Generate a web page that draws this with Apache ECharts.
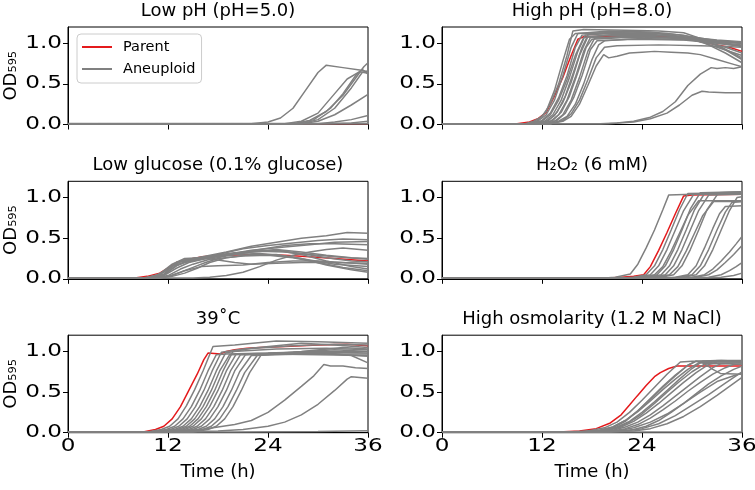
<!DOCTYPE html>
<html>
<head>
<meta charset="utf-8">
<script src="https://cdn.jsdelivr.net/npm/echarts@6/dist/echarts.min.js"></script>
<style>html,body{margin:0;padding:0;background:#fff}#c{width:755px;height:490px}</style>
</head>
<body>
<div id="c"></div>
<script>
// ---------- data ----------
const xTicks = [0, 12, 24, 36];
const yTicks = [0, 0.5, 1.0];
const panelTitles = ['Low pH (pH=5.0)', 'High pH (pH=8.0)', 'Low glucose (0.1% glucose)', 'H\u2082O\u2082 (6 mM)', '39\u02DAC', 'High osmolarity (1.2 M NaCl)'];
const legendNames = ['Parent', 'Aneuploid'];

const lowPH_parent = [[0,0.01],[36,0.01]];
const lowPH_aneuploid = [
  [[0,0.01],[22,0.01],[24,0.03],[25.5,0.08],[27,0.2],[28.5,0.42],[30,0.64],[31,0.73],[33,0.7],[35,0.67],[36,0.65]],
  [[0,0.01],[26,0.01],[28,0.04],[30,0.14],[32,0.38],[33.5,0.56],[35,0.65],[36,0.63]],
  [[0,0.01],[27,0.01],[29,0.05],[31,0.16],[33,0.36],[34.5,0.57],[35.5,0.71],[36,0.76]],
  [[0,0.01],[27.5,0.01],[29.5,0.06],[31.5,0.2],[33,0.38],[34.5,0.6],[35.3,0.68],[36,0.62]],
  [[0,0.01],[28,0.01],[30,0.06],[32,0.2],[34,0.45],[35.3,0.64],[36,0.66]],
  [[0,0.01],[28,0.01],[30,0.04],[32,0.12],[34,0.24],[36,0.37]],
  [[0,0.01],[30,0.01],[32,0.03],[34,0.06],[36,0.11]],
  [[0,0.01],[31,0.01],[34,0.02],[36,0.04]],
  [[0,0.01],[36,0.012]],
  [[0,0.012],[36,0.01]]
];

const highPH_parent = [[0,0.01],[9,0.01],[10.5,0.03],[11.5,0.07],[12.5,0.15],[13.5,0.35],[14.5,0.58],[15.5,0.85],[16.3,1.05],[17,1.08],[22,1.09],[27,1.08],[29.5,1.06],[31,1.02],[33,0.98],[34.5,0.95],[36,0.9]];
const highPH_aneuploid = [
  [[0,0.01],[10,0.01],[11,0.04],[12,0.1],[13,0.25],[14,0.5],[15,0.85],[15.7,1.15],[17,1.17],[22,1.16],[26,1.15],[29,1.13],[31,1.06],[33,1.0],[36,0.97]],
  [[0,0.01],[10.5,0.01],[11.5,0.04],[12.5,0.12],[13.5,0.3],[14.5,0.6],[15.5,0.95],[16.3,1.12],[20,1.15],[25,1.14],[29,1.1],[32,1.02],[34,0.92],[36,0.8]],
  [[0,0.01],[11,0.01],[12,0.05],[13,0.14],[14,0.33],[15,0.6],[16,0.95],[16.8,1.1],[20,1.12],[25,1.11],[30,1.06],[33,1.02],[36,1.0]],
  [[0,0.01],[11,0.01],[12,0.04],[13,0.12],[14,0.3],[15,0.55],[16,0.85],[17,1.07],[20,1.1],[25,1.1],[30,1.07],[33,1.04],[36,1.02]],
  [[0,0.01],[11,0.01],[12.3,0.04],[13.3,0.12],[14.3,0.3],[15.3,0.58],[16.3,0.9],[17.2,1.1],[21,1.13],[26,1.12],[30,1.05],[33,0.95],[36,0.85]],
  [[0,0.01],[11.5,0.01],[12.5,0.04],[13.5,0.11],[14.5,0.27],[15.5,0.52],[16.5,0.85],[17.5,1.08],[21,1.11],[27,1.1],[31,1.03],[34,0.88],[36,0.76]],
  [[0,0.01],[11.5,0.01],[12.8,0.05],[13.8,0.15],[14.8,0.35],[15.8,0.65],[16.8,0.95],[17.6,1.12],[22,1.14],[27,1.12],[30,1.08],[33,1.03],[36,1.01]],
  [[0,0.01],[12,0.01],[13,0.04],[14,0.12],[15,0.3],[16,0.58],[17,0.9],[17.8,1.07],[22,1.08],[27,1.07],[31,1.04],[34,1.0],[36,0.98]],
  [[0,0.01],[12,0.01],[13.3,0.05],[14.3,0.15],[15.3,0.35],[16.3,0.64],[17.3,0.95],[18,1.05],[22,1.07],[28,1.06],[31,1.03],[34,0.95],[36,0.88]],
  [[0,0.01],[12.5,0.01],[13.5,0.04],[14.5,0.12],[15.5,0.3],[16.5,0.58],[17.5,0.9],[18.3,1.06],[23,1.09],[28,1.07],[32,1.03],[36,1.0]],
  [[0,0.01],[12.5,0.01],[13.8,0.05],[14.8,0.14],[15.8,0.33],[16.8,0.6],[17.8,0.92],[18.6,1.03],[23,1.05],[29,1.04],[33,1.0],[36,0.96]],
  [[0,0.01],[13,0.01],[14,0.04],[15,0.1],[16,0.25],[17,0.5],[18,0.8],[18.8,0.98],[19.5,1.03],[24,1.06],[30,1.04],[33,0.98],[36,0.82]],
  [[0,0.01],[13,0.01],[14.5,0.05],[15.5,0.13],[16.5,0.3],[17.5,0.55],[18.5,0.82],[19.5,0.95],[21,0.97],[26,0.98],[31,0.97],[34,0.96],[36,0.95]],
  [[0,0.01],[13,0.01],[14.5,0.04],[15.5,0.1],[16.5,0.25],[17.5,0.48],[18.5,0.72],[19.4,0.86],[20,0.82],[21,0.84],[22.5,0.88],[24,0.89],[25.5,0.9],[27.5,0.89],[29.5,0.88],[31,0.86],[33,0.8],[35,0.74],[36,0.71]],
  [[0,0.01],[10.5,0.01],[11.5,0.05],[12.5,0.16],[13.5,0.42],[14.5,0.78],[15.3,1.05],[16,1.12],[20,1.13],[26,1.12],[29,1.08],[31,1.04],[36,1.0]],
  [[0,0.01],[19,0.01],[21,0.02],[23,0.04],[25,0.09],[26.5,0.16],[28,0.28],[29.5,0.48],[31,0.62],[32.3,0.7],[33,0.69],[34,0.7],[35,0.69],[36,0.71]],
  [[0,0.01],[20,0.01],[23,0.03],[25,0.07],[27,0.14],[28.5,0.24],[30,0.36],[31.2,0.41],[32,0.4],[34,0.39],[36,0.39]]
];

const lowGlc_parent = [[0,0.01],[8,0.01],[9.5,0.03],[11,0.07],[12,0.13],[13,0.2],[14.5,0.24],[16,0.27],[19,0.29],[23,0.3],[26,0.29],[29,0.27],[32,0.25],[36,0.22]];
const lowGlc_aneuploid = [
  [[0,0.01],[9,0.01],[10.5,0.04],[12,0.12],[13,0.2],[14,0.23],[16,0.27],[19,0.33],[22,0.4],[25,0.45],[28,0.5],[31,0.53],[33.5,0.57],[36,0.56]],
  [[0,0.01],[9.5,0.01],[11,0.05],[12.5,0.15],[13.5,0.21],[15,0.24],[18,0.3],[21,0.37],[24,0.41],[27,0.44],[30,0.47],[33,0.49],[36,0.48]],
  [[0,0.01],[10,0.01],[11.5,0.05],[13,0.16],[14,0.21],[16,0.25],[19,0.3],[22,0.35],[26,0.39],[29,0.42],[32,0.45],[36,0.46]],
  [[0,0.01],[10,0.01],[11.5,0.04],[13,0.13],[14.5,0.2],[17,0.26],[20,0.31],[23,0.36],[26,0.41],[29,0.43],[32,0.43],[36,0.42]],
  [[0,0.01],[15,0.01],[17,0.02],[19,0.04],[21,0.08],[23,0.15],[25,0.23],[27,0.29],[29,0.33],[31,0.36],[33,0.38],[36,0.35]],
  [[0,0.01],[9.5,0.01],[11,0.05],[12.5,0.16],[13.5,0.22],[15,0.25],[17,0.28],[20,0.32],[23,0.34],[26,0.33],[29,0.3],[32,0.27],[36,0.24]],
  [[0,0.01],[10,0.01],[11.5,0.06],[12.8,0.18],[14,0.23],[16,0.26],[19,0.3],[22,0.34],[25,0.35],[28,0.31],[31,0.26],[34,0.22],[36,0.21]],
  [[0,0.01],[10,0.01],[11.5,0.05],[13,0.17],[14.5,0.22],[17,0.27],[20,0.3],[23,0.31],[26,0.28],[29,0.23],[32,0.18],[36,0.15]],
  [[0,0.01],[10.5,0.01],[12,0.04],[13.5,0.12],[15,0.18],[17,0.24],[19,0.28],[22,0.33],[25,0.35],[28,0.3],[31,0.22],[34,0.15],[36,0.12]],
  [[0,0.01],[10.5,0.01],[12,0.03],[13.5,0.08],[15,0.14],[16.5,0.2],[18,0.25],[21,0.28],[24,0.29],[27,0.26],[30,0.2],[33,0.14],[36,0.1]],
  [[0,0.01],[11,0.01],[12.5,0.03],[14,0.07],[15.5,0.13],[17,0.2],[19,0.26],[22,0.3],[25,0.3],[28,0.25],[31,0.17],[34,0.11],[36,0.08]],
  [[0,0.01],[9.5,0.01],[11,0.06],[12.5,0.18],[14,0.25],[16,0.26],[18,0.23],[20,0.2],[22,0.18],[25,0.19],[28,0.2],[32,0.2],[36,0.19]],
  [[0,0.01],[10,0.01],[11.5,0.05],[13,0.16],[14,0.2],[16,0.24],[19,0.29],[22,0.33],[25,0.36],[28,0.33],[31,0.29],[34,0.26],[36,0.25]],
  [[0,0.01],[11,0.01],[12.5,0.04],[14,0.1],[16,0.15],[18,0.16],[21,0.17],[24,0.2],[27,0.22],[30,0.22],[33,0.2],[36,0.18]]
];

const h2o2_parent = [[0,0.01],[20,0.01],[21.5,0.02],[23,0.03],[24.2,0.05],[25,0.15],[26,0.35],[27,0.57],[28,0.8],[29,1.02],[30,1.03],[36,1.04]];
const h2o2_aneuploid = [
  [[0,0.01],[19.5,0.01],[20.8,0.02],[22.6,0.06],[23.5,0.18],[24.5,0.38],[25.5,0.6],[26.5,0.85],[27.2,1.03],[30,1.04],[36,1.04]],
  [[0,0.01],[21.5,0.01],[23,0.02],[24.5,0.05],[25.5,0.16],[26.5,0.36],[27.5,0.6],[28.5,0.85],[29.5,1.05],[36,1.06]],
  [[0,0.01],[22,0.01],[23.5,0.02],[25,0.05],[26,0.16],[27,0.36],[28,0.6],[29,0.84],[30.2,1.04],[36,1.05]],
  [[0,0.01],[22.5,0.01],[24,0.02],[25.5,0.05],[26.5,0.15],[27.5,0.34],[28.5,0.56],[29.5,0.78],[30.8,0.96],[36,0.96]],
  [[0,0.01],[22.8,0.01],[24.3,0.02],[25.8,0.05],[26.8,0.16],[27.8,0.36],[28.8,0.6],[29.8,0.86],[31,1.06],[36,1.07]],
  [[0,0.01],[23.3,0.01],[24.8,0.02],[26.3,0.05],[27.3,0.16],[28.3,0.36],[29.3,0.6],[30.3,0.85],[31.5,1.05],[36,1.06]],
  [[0,0.01],[23.8,0.01],[25.3,0.02],[26.8,0.05],[27.8,0.16],[28.8,0.36],[29.8,0.6],[30.8,0.84],[32,1.03],[36,1.04]],
  [[0,0.01],[24.3,0.01],[25.8,0.02],[27.3,0.05],[28.3,0.15],[29.3,0.34],[30.3,0.56],[31.3,0.78],[32.6,0.95],[36,0.95]],
  [[0,0.01],[24.8,0.01],[26.3,0.02],[27.8,0.05],[28.8,0.16],[29.8,0.36],[30.8,0.6],[31.8,0.85],[33.2,1.06],[36,1.07]],
  [[0,0.01],[26.5,0.01],[28,0.02],[29.5,0.05],[30.5,0.16],[31.5,0.38],[32.5,0.62],[33.3,0.8],[34,0.89],[36,0.9]],
  [[0,0.01],[27,0.01],[28.5,0.02],[30,0.05],[31,0.16],[32,0.36],[33,0.6],[34,0.82],[34.8,0.94],[36,0.95]],
  [[0,0.01],[27.5,0.01],[29,0.02],[30.5,0.05],[31.5,0.16],[32.5,0.36],[33.5,0.6],[34.5,0.84],[35.4,1.0],[36,1.01]],
  [[0,0.01],[28.5,0.01],[30,0.02],[31.5,0.05],[32.5,0.12],[33.5,0.22],[34.5,0.33],[35.3,0.43],[36,0.52]],
  [[0,0.01],[29,0.01],[30.5,0.02],[32,0.05],[33,0.11],[34,0.2],[35,0.3],[36,0.41]],
  [[0,0.01],[30,0.01],[32,0.02],[33.5,0.05],[34.5,0.1],[35.3,0.15],[36,0.2]],
  [[0,0.01],[31,0.01],[33.5,0.02],[35,0.04],[36,0.07]]
];

const heat_parent = [[0,0.01],[9,0.01],[10.5,0.04],[11.5,0.08],[12.5,0.17],[13.5,0.32],[14.5,0.52],[15.5,0.72],[16.3,0.9],[16.8,0.98],[18.3,0.97],[19,1.0],[20,1.02],[21.5,1.04],[23,1.05],[26,1.06],[30,1.08],[33.5,1.09],[36,1.07]];
const heat_aneuploid = [
  [[0,0.01],[9.5,0.01],[11.2,0.04],[12.2,0.08],[13.2,0.17],[14.2,0.33],[15.2,0.53],[16.2,0.76],[17.4,1.06],[20,1.08],[25,1.13],[30,1.12],[33,1.11],[36,1.1]],
  [[0,0.01],[10,0.01],[11.8,0.04],[12.8,0.08],[13.8,0.17],[14.8,0.32],[15.8,0.52],[16.8,0.76],[17.8,0.96],[19,0.97],[24,0.98],[30,1.0],[36,1.0]],
  [[0,0.01],[10.5,0.01],[12.3,0.04],[13.3,0.08],[14.3,0.17],[15.3,0.32],[16.3,0.52],[17.3,0.76],[18.4,0.99],[21,1.03],[27,1.07],[32,1.09],[36,1.08]],
  [[0,0.01],[11,0.01],[12.8,0.04],[13.8,0.08],[14.8,0.17],[15.8,0.32],[16.8,0.52],[17.8,0.76],[18.9,0.98],[22,1.04],[28,1.1],[32,1.08],[36,1.05]],
  [[0,0.01],[11.4,0.01],[13.2,0.04],[14.2,0.08],[15.2,0.17],[16.2,0.32],[17.2,0.52],[18.2,0.76],[19.4,0.96],[24,0.97],[30,0.96],[36,0.95]],
  [[0,0.01],[11.8,0.01],[13.6,0.04],[14.6,0.08],[15.6,0.17],[16.6,0.32],[17.6,0.52],[18.6,0.76],[19.8,1.0],[25,1.03],[31,1.04],[36,1.02]],
  [[0,0.01],[12.2,0.01],[14,0.04],[15,0.08],[16,0.17],[17,0.32],[18,0.52],[19,0.76],[20.2,0.97],[26,0.98],[32,0.99],[36,0.98]],
  [[0,0.01],[12.7,0.01],[14.5,0.04],[15.5,0.08],[16.5,0.17],[17.5,0.32],[18.5,0.52],[19.5,0.76],[20.7,0.96],[26,0.98],[31,0.98],[34,0.95],[36,0.86]],
  [[0,0.01],[13.2,0.01],[15,0.04],[16,0.08],[17,0.17],[18,0.32],[19,0.52],[20,0.76],[21.3,0.96],[27,0.99],[32,1.02],[36,1.0]],
  [[0,0.01],[13.8,0.01],[15.6,0.04],[16.6,0.08],[17.6,0.17],[18.6,0.32],[19.6,0.52],[20.6,0.75],[22,0.95],[28,0.97],[36,0.97]],
  [[0,0.01],[14.4,0.01],[16.2,0.04],[17.2,0.08],[18.2,0.17],[19.2,0.32],[20.2,0.52],[21.2,0.74],[22.7,0.95],[28,1.0],[33,1.05],[36,1.03]],
  [[0,0.01],[15,0.01],[16.8,0.04],[17.8,0.08],[18.8,0.17],[19.8,0.32],[20.8,0.52],[21.8,0.74],[23.2,0.96],[29,0.98],[33,0.96],[36,0.94]],
  [[0,0.01],[12,0.01],[14,0.02],[16,0.04],[18,0.07],[20,0.1],[22,0.15],[24,0.25],[26,0.4],[28,0.57],[29.5,0.7],[30.7,0.84],[31.5,0.82],[33,0.82],[34.5,0.8],[36,0.79]],
  [[0,0.01],[14,0.01],[18,0.02],[21,0.04],[24,0.08],[26,0.13],[28,0.22],[30,0.35],[32,0.52],[33.5,0.66],[34,0.69],[35,0.68],[36,0.67]],
  [[0,0.01],[20,0.01],[30,0.015],[36,0.025]]
];

const osmo_parent = [[0,0.01],[14,0.01],[16.5,0.02],[18.5,0.05],[20.2,0.12],[21.5,0.22],[22.5,0.34],[23.4,0.45],[24.5,0.58],[25.5,0.69],[26.2,0.74],[27.2,0.79],[28.2,0.82],[36,0.82]];
const osmo_aneuploid = [
  [[0,0.01],[15,0.01],[17.5,0.02],[19.5,0.06],[21,0.13],[22.5,0.25],[24,0.4],[25.5,0.56],[27,0.72],[28.6,0.87],[30,0.88],[33,0.88],[36,0.88]],
  [[0,0.01],[16,0.01],[18.5,0.02],[20.5,0.06],[22,0.14],[23.5,0.27],[25,0.42],[26.5,0.57],[28,0.71],[29.5,0.83],[30.5,0.88],[33,0.89],[36,0.89]],
  [[0,0.01],[16.5,0.01],[19,0.03],[20.5,0.07],[22,0.15],[23.5,0.26],[25,0.39],[26.5,0.53],[28,0.66],[29.5,0.78],[30.8,0.86],[33,0.87],[36,0.87]],
  [[0,0.01],[17,0.01],[19.5,0.03],[21,0.07],[22.5,0.14],[24,0.25],[25.5,0.38],[27,0.52],[28.5,0.66],[30,0.79],[31.3,0.88],[33.5,0.89],[36,0.88]],
  [[0,0.01],[17,0.01],[19.5,0.03],[21,0.06],[22.5,0.13],[24,0.23],[25.5,0.36],[27,0.5],[28.5,0.63],[30,0.75],[31.6,0.85],[34,0.85],[36,0.84]],
  [[0,0.01],[16.5,0.01],[19,0.03],[20.5,0.07],[22,0.15],[23.5,0.27],[25,0.41],[26.5,0.56],[28,0.7],[29.5,0.83],[30.5,0.88],[31.5,0.85],[32.5,0.78],[33.4,0.73],[36,0.72]],
  [[0,0.01],[17.5,0.01],[20,0.03],[21.5,0.07],[23,0.14],[24.5,0.24],[26,0.36],[27.5,0.49],[29,0.62],[30.5,0.74],[32,0.84],[33,0.87],[36,0.87]],
  [[0,0.01],[18,0.01],[20.5,0.03],[22,0.07],[23.5,0.13],[25,0.22],[26.5,0.33],[28,0.45],[29.5,0.57],[31,0.69],[32.5,0.8],[33.5,0.85],[36,0.86]],
  [[0,0.01],[18,0.01],[20.5,0.02],[22,0.05],[23.5,0.1],[25,0.18],[26.5,0.28],[28,0.39],[29.5,0.51],[31,0.62],[32.5,0.72],[34,0.8],[35,0.84],[36,0.85]],
  [[0,0.01],[19,0.01],[21.5,0.02],[23,0.04],[24.5,0.08],[26,0.15],[27.5,0.25],[29,0.36],[30.5,0.48],[32,0.6],[33.5,0.7],[35,0.78],[36,0.82]],
  [[0,0.01],[19.5,0.01],[22,0.02],[24,0.05],[26,0.11],[28,0.21],[30,0.34],[32,0.47],[34,0.61],[36,0.75]],
  [[0,0.01],[20,0.01],[23,0.02],[25,0.05],[27,0.11],[29,0.2],[31,0.32],[33,0.46],[34.5,0.57],[36,0.68]],
  [[0,0.01],[19,0.01],[21.5,0.03],[23,0.06],[25,0.13],[27,0.23],[29,0.36],[31,0.5],[33,0.63],[35,0.7],[36,0.73]],
  [[0,0.01],[36,0.01]]
];

// ---------- chart ----------
const panels = [
  {parent: lowPH_parent, aneu: lowPH_aneuploid},
  {parent: highPH_parent, aneu: highPH_aneuploid},
  {parent: lowGlc_parent, aneu: lowGlc_aneuploid},
  {parent: h2o2_parent, aneu: h2o2_aneuploid},
  {parent: heat_parent, aneu: heat_aneuploid},
  {parent: osmo_parent, aneu: osmo_aneuploid}
];
const FONT = 'DejaVu Sans';
const RED = '#e41a1c', GRAY = '#808080';
const colLeft = [68, 442], gridW = 300, gridH = 97.5;
const rowTop = [27, 181.3, 335.2];
const TICK_FONT = 17.5, TICK_STRETCH = 1.32;

const grids = [], xAxes = [], yAxes = [], titles = [], series = [];
panels.forEach((p, i) => {
  const col = i % 2, row = Math.floor(i / 2);
  grids.push({left: colLeft[col], top: rowTop[row], width: gridW, height: gridH,
    show: true, borderColor: '#000', borderWidth: 1, backgroundColor: 'transparent', containLabel: false});
  xAxes.push({type: 'value', gridIndex: i, min: 0, max: 36, interval: 12,
    axisLine: {show: true, onZero: false, lineStyle: {color: '#000', width: 1}},
    axisTick: {show: true, length: 5, customValues: xTicks, lineStyle: {color: '#000', width: 1}},
    axisLabel: {show: false, customValues: xTicks},
    splitLine: {show: false},
    name: row === 2 ? 'Time (h)' : '', nameLocation: 'middle', nameGap: 31,
    nameTextStyle: {color: '#000', fontSize: 18, fontFamily: FONT}});
  yAxes.push({type: 'value', gridIndex: i, min: 0, max: 1.2,
    axisLine: {show: true, lineStyle: {color: '#000', width: 1}},
    axisTick: {show: true, length: 5, customValues: yTicks, lineStyle: {color: '#000', width: 1}},
    axisLabel: {show: false, customValues: yTicks},
    splitLine: {show: false},
    name: col === 0 ? 'OD\u2085\u2089\u2085' : '', nameLocation: 'middle', nameRotate: 90, nameGap: 48,
    nameTextStyle: {color: '#000', fontSize: 18, fontFamily: FONT}});
  titles.push({text: panelTitles[i], left: colLeft[col] + gridW / 2, top: rowTop[row] - 25, textAlign: 'center', padding: 0,
    textStyle: {color: '#000', fontSize: 18, fontWeight: 'normal', fontFamily: FONT}});
  series.push({type: 'line', name: legendNames[0], xAxisIndex: i, yAxisIndex: i, data: p.parent,
    symbol: 'none', showSymbol: false, lineStyle: {color: RED, width: 1.5}, itemStyle: {color: RED}, silent: true, animation: false});
  p.aneu.forEach(d => {
    series.push({type: 'line', name: legendNames[1], xAxisIndex: i, yAxisIndex: i, data: d,
      symbol: 'none', showSymbol: false, lineStyle: {color: GRAY, width: 1.5}, itemStyle: {color: GRAY}, silent: true, animation: false});
  });
});

const chart = echarts.init(document.getElementById('c'), null, {renderer: 'canvas'});
chart.setOption({
  backgroundColor: '#fff',
  animation: false,
  title: titles,
  grid: grids,
  xAxis: xAxes,
  yAxis: yAxes,
  legend: {
    data: legendNames.map(n => ({name: n, icon: 'rect'})),
    orient: 'vertical', left: 77, top: 34, itemWidth: 30, itemHeight: 2, itemGap: 6,
    padding: [5, 6, 6, 5], borderColor: '#cccccc', borderWidth: 1, borderRadius: 4,
    backgroundColor: 'rgba(255,255,255,0.8)',
    textStyle: {color: '#000', fontSize: 14.5, fontFamily: FONT, lineHeight: 16, padding: [0, 0, 0, 6]},
    selectedMode: false
  },
  series: series
});

// Tick labels (wide glyphs as in the reference), positioned through each grid's own axes.
const tickText = [];
panels.forEach((p, i) => {
  const row = Math.floor(i / 2);
  yTicks.forEach(v => {
    const pt = chart.convertToPixel({gridIndex: i}, [0, v]);
    tickText.push({type: 'text', x: pt[0] - 6, y: pt[1], scaleX: TICK_STRETCH, silent: true,
      style: {text: v.toFixed(1), fill: '#000', fontSize: TICK_FONT, fontFamily: FONT,
        align: 'right', verticalAlign: 'middle', textAlign: 'right', textVerticalAlign: 'middle'}});
  });
  if (row === 2) {
    xTicks.forEach(v => {
      const pt = chart.convertToPixel({gridIndex: i}, [v, 0]);
      tickText.push({type: 'text', x: pt[0], y: pt[1] + 5, scaleX: TICK_STRETCH, silent: true,
        style: {text: String(v), fill: '#000', fontSize: TICK_FONT, fontFamily: FONT,
          align: 'center', verticalAlign: 'top', textAlign: 'center', textVerticalAlign: 'top'}});
    });
  }
});
chart.setOption({graphic: {elements: tickText}});
</script>
</body>
</html>
